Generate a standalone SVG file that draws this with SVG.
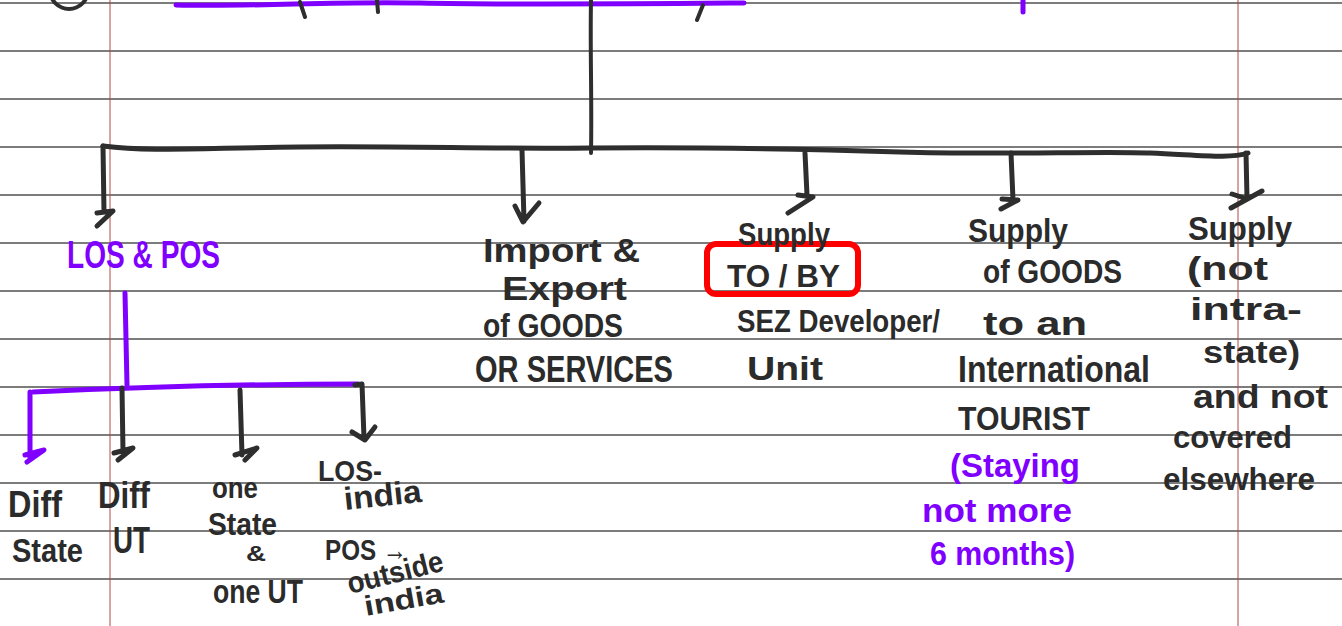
<svg xmlns="http://www.w3.org/2000/svg" width="1342" height="626" viewBox="0 0 1342 626">
<style>
.rule{stroke:#7c7c7c;stroke-width:2;fill:none}
.margin{stroke:#b04848;stroke-width:1;fill:none}
.blk{stroke:#2e2e2e;stroke-width:5;fill:none;stroke-linecap:round;stroke-linejoin:round}
.blkt{stroke:#2e2e2e;stroke-width:4;fill:none;stroke-linecap:round;stroke-linejoin:round}
.pur{stroke:#8000ff;stroke-width:5;fill:none;stroke-linecap:round;stroke-linejoin:round}
.t{fill:#2b2b2b;font-family:"Liberation Sans",Arial,sans-serif;font-weight:bold}
.p{fill:#8000ff;font-family:"Liberation Sans",Arial,sans-serif;font-weight:bold}
</style>
<rect width="1342" height="626" fill="#ffffff"/>
<g id="paper">
<line class="rule" x1="0" y1="3" x2="1342" y2="3"/>
<line class="rule" x1="0" y1="51" x2="1342" y2="51"/>
<line class="rule" x1="0" y1="99" x2="1342" y2="99"/>
<line class="rule" x1="0" y1="147" x2="1342" y2="147"/>
<line class="rule" x1="0" y1="195" x2="1342" y2="195"/>
<line class="rule" x1="0" y1="243" x2="1342" y2="243"/>
<line class="rule" x1="0" y1="291" x2="1342" y2="291"/>
<line class="rule" x1="0" y1="339" x2="1342" y2="339"/>
<line class="rule" x1="0" y1="387" x2="1342" y2="387"/>
<line class="rule" x1="0" y1="435" x2="1342" y2="435"/>
<line class="rule" x1="0" y1="483" x2="1342" y2="483"/>
<line class="rule" x1="0" y1="531" x2="1342" y2="531"/>
<line class="rule" x1="0" y1="579" x2="1342" y2="579"/>
<line class="margin" x1="110" y1="0" x2="110" y2="626"/>
<line class="margin" x1="1238" y1="0" x2="1238" y2="626"/>
</g>
<g id="top-fragment">
<circle cx="69" cy="-10" r="19" class="blkt"/>
<path class="pur" stroke-width="6" d="M176,5 C260,7 330,1 420,3 S620,4 744,3"/>
<path class="blkt" d="M300,2 L305,17 M377,0 L378,12 M703,5 L697,20"/>
<path class="pur" stroke-width="3" d="M1023,0 L1023,12"/>
</g>
<g id="connectors">
<path class="blkt" d="M591,0 C590,50 592,100 591,153"/>
<path class="blk" d="M103,146 C150,152 200,148 300,147 S500,149 591,148 S800,149 900,152 S1100,151 1150,153 S1230,159 1248,153"/>
<path class="blk" d="M103,146 L104,212 M97,213 L113,211 L97,226"/>
<path class="blk" d="M522,150 L524,221 M515,206 L523,222 L539,203"/>
<path class="blk" d="M805,153 L807,195 M798,195 L813,197 L788,213"/>
<path class="blk" d="M1011,153 L1013,200 M1002,199 L1018,200 L1001,209"/>
<path class="blk" d="M1246,153 L1247,198 M1232,194 L1247,199 M1231,208 L1262,191"/>
<path class="pur" d="M125,293 L127,385"/>
<path class="pur" d="M33,392 C120,388 250,384 358,384"/>
<path class="pur" d="M30,392 L30,459 M25,455 L44,450 L27,462"/>
<path class="blk" d="M122,388 L123,452 M114,453 L133,448 L118,460"/>
<path class="blk" d="M240,390 L242,455 M235,455 L257,448 L245,460"/>
<path class="blk" d="M355,385 L362,384 L364,438 M352,432 L365,440 L375,427"/>
</g>
<g id="box-tobY">
<rect x="707" y="244" width="151" height="50" rx="9" fill="none" stroke="#ff0000" stroke-width="6"/>
</g>
<g id="node-los-pos">
<text class="p" x="67" y="268" font-size="38" textLength="153" lengthAdjust="spacingAndGlyphs">LOS &amp; POS</text>
</g>
<g id="node-import-export">
<text class="t" x="483" y="262" font-size="34" textLength="157" lengthAdjust="spacingAndGlyphs">Import &amp;</text>
<text class="t" x="502" y="300" font-size="34" textLength="125" lengthAdjust="spacingAndGlyphs">Export</text>
<text class="t" x="483" y="337" font-size="34" textLength="140" lengthAdjust="spacingAndGlyphs">of GOODS</text>
<text class="t" x="475" y="382" font-size="36" textLength="198" lengthAdjust="spacingAndGlyphs">OR SERVICES</text>
</g>
<g id="node-sez">
<text class="t" x="738" y="245" font-size="32" textLength="92" lengthAdjust="spacingAndGlyphs">Supply</text>
<text class="t" x="727" y="287" font-size="32" textLength="113" lengthAdjust="spacingAndGlyphs">TO / BY</text>
<text class="t" x="737" y="332" font-size="32" textLength="203" lengthAdjust="spacingAndGlyphs">SEZ Developer/</text>
<text class="t" x="747" y="380" font-size="34" textLength="76" lengthAdjust="spacingAndGlyphs">Unit</text>
</g>
<g id="node-tourist">
<text class="t" x="968" y="242" font-size="34" textLength="100" lengthAdjust="spacingAndGlyphs">Supply</text>
<text class="t" x="983" y="283" font-size="34" textLength="139" lengthAdjust="spacingAndGlyphs">of GOODS</text>
<text class="t" x="983" y="335" font-size="34" textLength="104" lengthAdjust="spacingAndGlyphs">to an</text>
<text class="t" x="958" y="382" font-size="36" textLength="192" lengthAdjust="spacingAndGlyphs">International</text>
<text class="t" x="958" y="430" font-size="34" textLength="132" lengthAdjust="spacingAndGlyphs">TOURIST</text>
<text class="p" x="950" y="477" font-size="34" textLength="130" lengthAdjust="spacingAndGlyphs">(Staying</text>
<text class="p" x="922" y="522" font-size="34" textLength="150" lengthAdjust="spacingAndGlyphs">not more</text>
<text class="p" x="930" y="565" font-size="34" textLength="145" lengthAdjust="spacingAndGlyphs">6 months)</text>
</g>
<g id="node-not-intra">
<text class="t" x="1188" y="240" font-size="34" textLength="104" lengthAdjust="spacingAndGlyphs">Supply</text>
<text class="t" x="1187" y="280" font-size="34" textLength="81" lengthAdjust="spacingAndGlyphs">(not</text>
<text class="t" x="1190" y="320" font-size="32" textLength="112" lengthAdjust="spacingAndGlyphs">intra-</text>
<text class="t" x="1203" y="363" font-size="32" textLength="97" lengthAdjust="spacingAndGlyphs">state)</text>
<text class="t" x="1193" y="408" font-size="34" textLength="135" lengthAdjust="spacingAndGlyphs">and not</text>
<text class="t" x="1173" y="448" font-size="32" textLength="119" lengthAdjust="spacingAndGlyphs">covered</text>
<text class="t" x="1163" y="490" font-size="32" textLength="152" lengthAdjust="spacingAndGlyphs">elsewhere</text>
</g>
<g id="node-diff-state">
<text class="t" x="8" y="517" font-size="36" textLength="54" lengthAdjust="spacingAndGlyphs">Diff</text>
<text class="t" x="12" y="562" font-size="34" textLength="71" lengthAdjust="spacingAndGlyphs">State</text>
</g>
<g id="node-diff-ut">
<text class="t" x="98" y="508" font-size="36" textLength="52" lengthAdjust="spacingAndGlyphs">Diff</text>
<text class="t" x="113" y="553" font-size="36" textLength="37" lengthAdjust="spacingAndGlyphs">UT</text>
</g>
<g id="node-one-state">
<text class="t" x="212" y="498" font-size="30" textLength="46" lengthAdjust="spacingAndGlyphs">one</text>
<text class="t" x="208" y="535" font-size="32" textLength="69" lengthAdjust="spacingAndGlyphs">State</text>
<text class="t" x="246" y="561" font-size="22" textLength="20" lengthAdjust="spacingAndGlyphs">&amp;</text>
<text class="t" x="213" y="603" font-size="34" textLength="90" lengthAdjust="spacingAndGlyphs">one UT</text>
</g>
<g id="node-los-india">
<text class="t" x="318" y="481" font-size="30" textLength="64" lengthAdjust="spacingAndGlyphs">LOS-</text>
<text class="t" x="345" y="510" font-size="32" textLength="78" lengthAdjust="spacingAndGlyphs" transform="rotate(-6 345 510)">india</text>
<text class="t" x="325" y="560" font-size="30" textLength="82" lengthAdjust="spacingAndGlyphs">POS →</text>
<text class="t" x="350" y="594" font-size="30" textLength="98" lengthAdjust="spacingAndGlyphs" transform="rotate(-14 350 594)">outside</text>
<text class="t" x="366" y="616" font-size="28" textLength="80" lengthAdjust="spacingAndGlyphs" transform="rotate(-10 366 616)">india</text>
</g>
</svg>
